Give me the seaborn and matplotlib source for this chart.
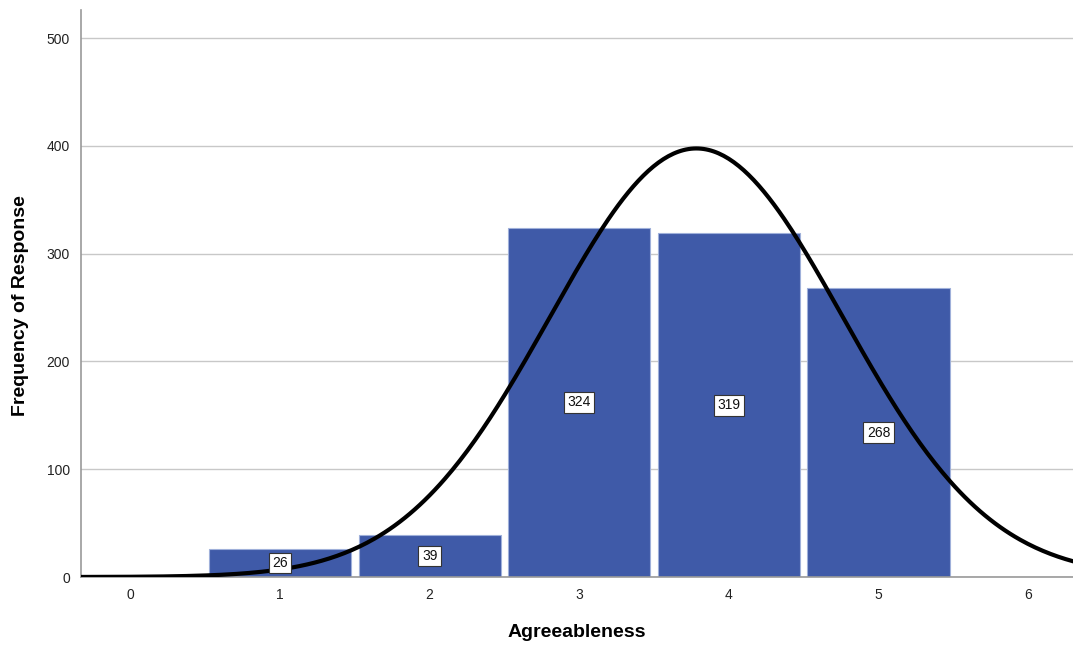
import numpy as np
import pandas as pd
import seaborn as sns
import matplotlib.pyplot as plt

# Agreeableness scores and how many people gave each
scores = [1, 2, 3, 4, 5]
counts = [26, 39, 324, 319, 268]
xticks = [0, 1, 2, 3, 4, 5, 6]
yticks = [0, 100, 200, 300, 400, 500]

df = pd.DataFrame({'score': scores, 'count': counts})

sns.set_style('white')
plt.rcParams['font.family'] = ['Liberation Sans', 'DejaVu Sans']

fig = plt.figure(figsize=(10.73, 6.45), dpi=100)
ax = fig.add_axes([0.0755, 0.1054, 0.9245, 0.879])

# Histogram bars
sns.histplot(data=df, x='score', weights='count', discrete=True, shrink=0.95,
             color='#3F5AA8', edgecolor='#9FB0DA', linewidth=0.8, alpha=1, ax=ax)

# Normal curve fitted to the responses
n = df['count'].sum()
mean = (df['score'] * df['count']).sum() / n
sd = np.sqrt((df['count'] * (df['score'] - mean) ** 2).sum() / n)
xs = np.linspace(-0.35, 6.35, 400)
ys = n * np.exp(-0.5 * ((xs - mean) / sd) ** 2) / (sd * np.sqrt(2 * np.pi))
sns.lineplot(x=xs, y=ys, color='black', linewidth=3, ax=ax, zorder=4)

# Count labels in the middle of each bar
for s, c in zip(scores, counts):
    ax.text(s, c / 2, str(c), ha='center', va='center', fontsize=10, zorder=5,
            color='#111111',
            bbox=dict(boxstyle='square,pad=0.25', facecolor='white',
                      edgecolor='#333333', linewidth=0.8))

ax.set_xlim(-0.33, 6.3)
ax.set_ylim(0, 526)
ax.set_xticks(xticks)
ax.set_yticks(yticks)
ax.tick_params(axis='both', labelsize=10, colors='#222222', length=0, pad=8)
ax.yaxis.grid(True, color='#C8C8C8', linewidth=1)
ax.set_axisbelow(True)

for side in ['top', 'right']:
    ax.spines[side].set_visible(False)
for side in ['left', 'bottom']:
    ax.spines[side].set_color('#999999')
    ax.spines[side].set_linewidth(1.2)

ax.set_xlabel('Agreeableness', fontsize=14, fontweight='bold', labelpad=16,
              color='black')
ax.set_ylabel('Frequency of Response', fontsize=14, fontweight='bold',
              color='black')
ax.yaxis.set_label_coords(-0.052, 0.478)

fig.savefig('out.png', dpi=100)
